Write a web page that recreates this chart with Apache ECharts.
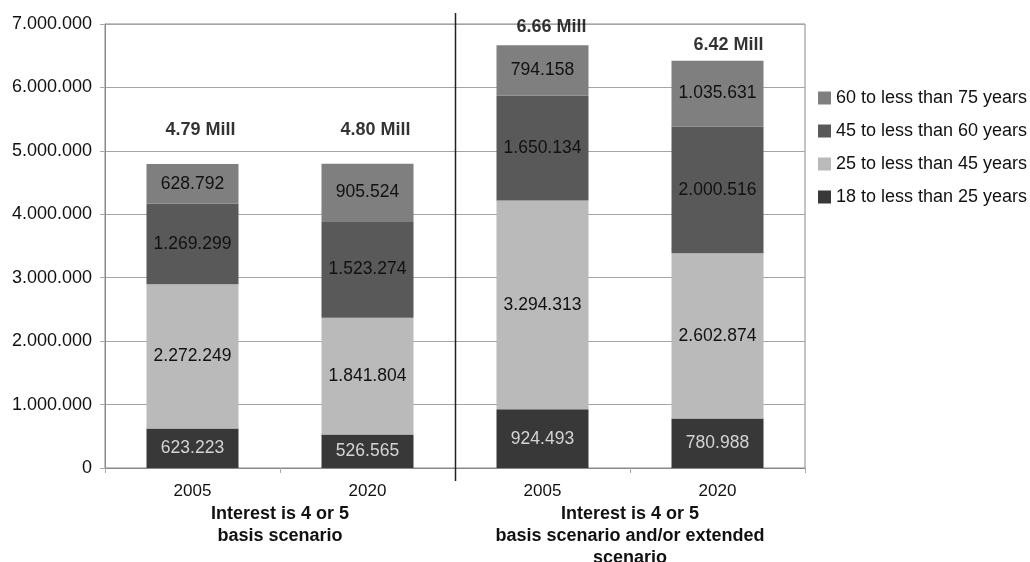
<!DOCTYPE html>
<html>
<head>
<meta charset="utf-8">
<script src="https://cdn.jsdelivr.net/npm/echarts@6/dist/echarts.min.js"></script>
<style>
  html, body { margin: 0; padding: 0; background: #fff; }
  #chart { width: 1030px; height: 562px; }
</style>
</head>
<body>
<div id="chart"></div>
<script>
// Population by age group, two scenarios, 2005 and 2020
const years = ['2005', '2020', '2005', '2020'];
const groups = ['Interest is 4 or 5\nbasis scenario', 'Interest is 4 or 5\nbasis scenario and/or extended\nscenario'];
const ageGroups = ['18 to less than 25 years', '25 to less than 45 years', '45 to less than 60 years', '60 to less than 75 years'];
const age18to25 = [623223, 526565, 924493, 780988];
const age25to45 = [2272249, 1841804, 3294313, 2602874];
const age45to60 = [1269299, 1523274, 1650134, 2000516];
const age60to75 = [628792, 905524, 794158, 1035631];
const yTicks = { min: 0, max: 7000000, interval: 1000000 };

const seriesValues = [age18to25, age25to45, age45to60, age60to75];
const colors = ['#383838', '#bababa', '#595959', '#7f7f7f'];
const labelColors = ['#d4d4d4', '#111', '#111', '#111'];
const FONT = "'Liberation Sans', Arial, sans-serif";

// German-style thousands separators
function dots(v) {
  return String(Math.round(v)).replace(/\B(?=(\d{3})+(?!\d))/g, '.');
}

const totals = years.map((_, i) => seriesValues.reduce((s, arr) => s + arr[i], 0));
// label nudges for the totals above each column
const totalOffsets = [[8, -34], [8, -34], [9, -18], [11, -16]];

const barSeries = ageGroups.map((name, k) => ({
  name: name,
  type: 'bar',
  stack: 'total',
  barWidth: 92,
  data: seriesValues[k],
  itemStyle: { color: colors[k] },
  label: {
    show: true,
    position: 'inside',
    formatter: p => dots(p.value),
    color: labelColors[k],
    fontFamily: FONT,
    fontSize: 17.5
  },
  emphasis: { disabled: true },
  animation: false
}));

const totalSeries = {
  type: 'scatter',
  symbolSize: 0,
  silent: true,
  animation: false,
  data: totals.map((t, i) => ({
    value: [i, t],
    label: { offset: totalOffsets[i] }
  })),
  label: {
    show: true,
    position: 'inside',
    formatter: p => (p.value[1] / 1e6).toFixed(2) + ' Mill',
    color: '#000',
    fontWeight: 'bold',
    fontFamily: FONT,
    fontSize: 18
  }
};

const chart = echarts.init(document.getElementById('chart'));
chart.setOption({
  backgroundColor: '#fff',
  animation: false,
  grid: {
    left: 105, right: 225, top: 24, bottom: 94,
    containLabel: false,
    outerBoundsMode: 'none',
    show: true, borderColor: '#888', borderWidth: 1
  },
  legend: {
    orient: 'vertical',
    left: 818,
    top: 89,
    padding: 0,
    itemWidth: 13,
    itemHeight: 13,
    itemGap: 15,
    icon: 'rect',
    data: ageGroups.slice().reverse(),
    textStyle: { fontFamily: FONT, fontSize: 18, color: '#111', lineHeight: 18 },
    selectedMode: false
  },
  xAxis: [
    {
      type: 'category',
      data: years,
      position: 'bottom',
      axisLine: { show: true, lineStyle: { color: '#888', width: 1 } },
      axisTick: { show: true, length: 5, lineStyle: { color: '#aaa' } },
      axisLabel: { margin: 15, color: '#111', fontFamily: FONT, fontSize: 17 }
    },
    {
      type: 'category',
      data: groups,
      position: 'bottom',
      offset: 30,
      axisLine: { show: false },
      axisTick: { show: false },
      axisLabel: {
        margin: 5,
        verticalAlign: 'top',
        color: '#111',
        fontWeight: 'bold',
        fontFamily: FONT,
        fontSize: 18,
        lineHeight: 22
      }
    }
  ],
  yAxis: {
    type: 'value',
    min: yTicks.min,
    max: yTicks.max,
    interval: yTicks.interval,
    axisLine: { show: true, lineStyle: { color: '#888', width: 1 } },
    axisTick: { show: true, length: 5, lineStyle: { color: '#aaa' } },
    splitLine: { show: true, lineStyle: { color: '#a5a5a5', width: 1 } },
    axisLabel: {
      margin: 13,
      formatter: v => dots(v),
      color: '#111',
      fontFamily: FONT,
      fontSize: 18
    }
  },
  series: barSeries.concat([totalSeries])
});

// Dividing line between the two scenario groups
const xa = chart.convertToPixel({ xAxisIndex: 0 }, 1);
const xb = chart.convertToPixel({ xAxisIndex: 0 }, 2);
const yTop = chart.convertToPixel({ yAxisIndex: 0 }, yTicks.max);
const yBottom = chart.convertToPixel({ yAxisIndex: 0 }, yTicks.min);
const xSep = Math.round((xa + xb) / 2) + 0.5;
chart.setOption({
  graphic: [{
    type: 'line',
    shape: { x1: xSep, y1: yTop - 11, x2: xSep, y2: yBottom + 13 },
    style: { stroke: '#222', lineWidth: 1.5 },
    silent: true,
    z: 100
  }]
});
</script>
</body>
</html>
